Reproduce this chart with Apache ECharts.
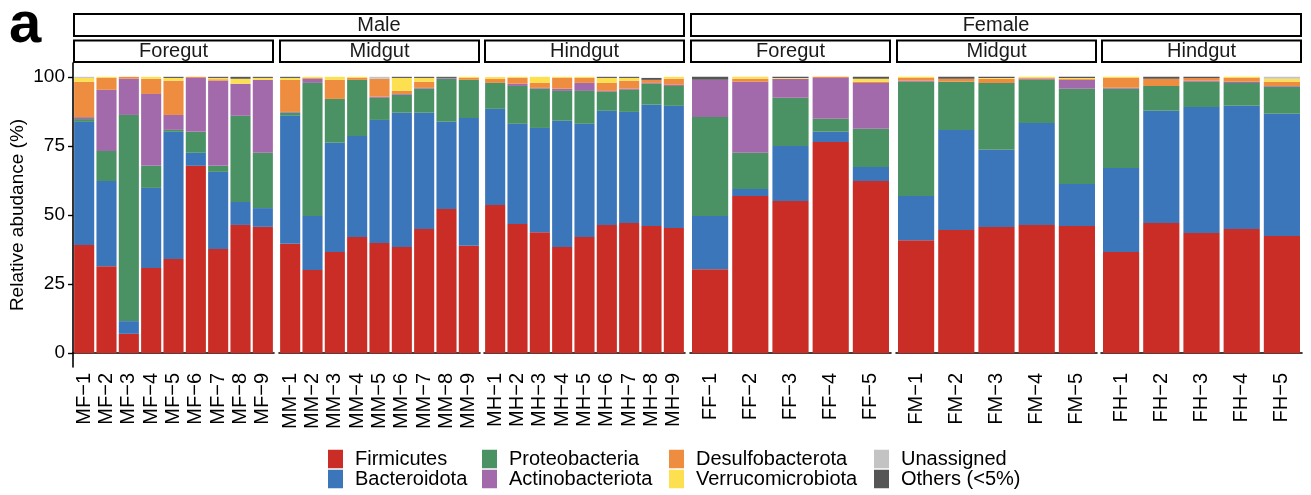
<!DOCTYPE html>
<html><head><meta charset="utf-8">
<script src="https://cdn.jsdelivr.net/npm/echarts@6/dist/echarts.min.js"></script>
<style>html,body{margin:0;padding:0;background:#fff}#c{width:1311px;height:495px}</style>
</head><body><div id="c"></div>
<script>
// ---- data ----
const samples = [
  'MF−1','MF−2','MF−3','MF−4','MF−5','MF−6','MF−7','MF−8','MF−9',
  'MM−1','MM−2','MM−3','MM−4','MM−5','MM−6','MM−7','MM−8','MM−9',
  'MH−1','MH−2','MH−3','MH−4','MH−5','MH−6','MH−7','MH−8','MH−9',
  'FF−1','FF−2','FF−3','FF−4','FF−5',
  'FM−1','FM−2','FM−3','FM−4','FM−5',
  'FH−1','FH−2','FH−3','FH−4','FH−5'
];
const sexes = ['Male', 'Female'];
const sites = ['Foregut', 'Midgut', 'Hindgut', 'Foregut', 'Midgut', 'Hindgut'];
const panelSize = [9, 9, 9, 5, 5, 5];
const phyla = ['Firmicutes','Bacteroidota','Proteobacteria','Actinobacteriota','Desulfobacterota','Verrucomicrobiota','Unassigned','Others (<5%)'];
const yTicks = [0, 25, 50, 75, 100];

const firmicutes = [39.1,31.5,7.0,30.8,34.1,67.8,37.7,46.4,45.7, 39.6,30.1,36.6,42.0,39.9,38.4,44.9,52.2,38.9, 53.6,46.7,43.8,38.4,42.0,46.4,47.1,46.0,45.3, 30.4,56.9,55.1,76.4,62.3, 40.9,44.6,45.7,46.4,46.0, 36.6,47.1,43.5,44.9,42.4];
const bacteroidota = [44.6,30.8,4.6,29.0,46.0,4.7,27.9,8.3,6.8, 46.3,19.5,39.5,36.6,44.5,48.6,42.1,31.5,46.2, 34.8,36.3,37.7,45.7,41.0,41.3,40.2,43.9,44.2, 19.2,2.5,19.9,3.7,5.1, 16.0,36.2,27.9,36.9,15.2, 30.4,40.6,45.6,44.6,44.2];
const proteobacteria = [1.0,10.9,74.6,8.0,0.7,7.6,2.2,31.2,20.0, 1.1,48.2,15.9,20.3,8.0,6.5,8.7,15.6,13.8, 9.4,13.7,14.2,10.8,11.9,6.9,8.0,7.6,7.2, 35.9,13.1,17.4,4.7,13.8, 41.3,17.4,24.2,15.6,34.5, 28.7,9.0,9.1,8.3,9.8];
const actinobacteriota = [0.7,22.1,13.1,26.0,5.4,19.5,30.8,11.6,26.4, 0.3,1.5,0,0,0.4,0.3,0.3,0.3,0, 0,0.8,0.3,0.8,2.9,0.3,0.4,0.3,0.4, 13.4,25.7,6.9,14.8,16.6, 0.4,0,0,0.4,3.2, 0.3,0,0.4,0.4,0.3];
const desulfobacterota = [12.8,4.3,0.7,5.5,12.4,0.4,0.5,0,0, 11.6,0.3,6.9,0.7,6.5,1.1,2.2,0,0.7, 1.4,2.1,1.8,3.9,1.8,2.9,2.9,1.1,2.2, 0,1.1,0,0.4,0.4, 1.0,1.1,1.5,0.3,0.3, 3.6,2.6,1.0,1.4,1.5];
const verrucomicrobiota = [1.4,0.4,0,0.7,1.0,0,0.5,1.8,0.7, 0.7,0.4,1.1,0.4,0,4.7,1.4,0,0.4, 0.7,0.4,2.2,0.4,0.4,1.8,1.0,0,0.7, 0,0.7,0.3,0,1.1, 0.4,0,0.3,0.4,0.4, 0.4,0,0,0.4,1.1];
const unassigned = [0.4,0,0,0,0,0,0,0,0, 0,0,0,0,0.7,0,0,0,0, 0,0,0,0,0,0,0,0,0, 0,0,0,0,0, 0,0,0,0,0, 0,0,0,0,0.7];
const others = [0,0,0,0,0.4,0,0.4,0.7,0.4, 0.4,0,0,0,0,0.4,0.4,0.4,0, 0,0,0,0,0,0.4,0.4,0.7,0, 1.1,0,0.4,0,0.7, 0,0.7,0.4,0,0.4, 0,0.7,0.4,0,0];

const values = [firmicutes, bacteroidota, proteobacteria, actinobacteriota, desulfobacterota, verrucomicrobiota, unassigned, others];
const colors = ['#C92D25','#3B75BA','#4A9264','#A26AAA','#EE8C3F','#FDE050','#C3C3C3','#555555'];

// ---- layout ----
const FONT = "'Liberation Sans', Arial, Helvetica, sans-serif";
const panelLeft = [73, 279, 484, 690, 896, 1101];
const panelW = 201;
const gridTop = 63, gridH = 304;

const grids = [], xAxes = [], yAxes = [], series = [];
let start = 0;
panelSize.forEach((n, p) => {
  const cats = samples.slice(start, start + n);
  grids.push({ left: panelLeft[p], width: panelW, top: gridTop, height: gridH, containLabel: false });
  xAxes.push({
    type: 'category', gridIndex: p, data: cats,
    axisLine: { lineStyle: { color: '#000', width: 1.6 } },
    axisTick: { alignWithLabel: true, interval: 0, length: 5, lineStyle: { color: '#000', width: 1.4 } },
    axisLabel: { interval: 0, rotate: 90, fontSize: 20, color: '#000', margin: 6, fontFamily: FONT, hideOverlap: false }
  });
  const first = p === 0;
  yAxes.push({
    type: 'value', gridIndex: p, min: -5, max: 105,
    splitLine: { show: false },
    axisLine: { show: first, lineStyle: { color: '#000', width: 1.6 } },
    axisTick: { show: first, customValues: yTicks, length: 5, lineStyle: { color: '#000', width: 1.4 } },
    axisLabel: { show: first, customValues: yTicks, fontSize: 19, color: '#000', margin: 8, fontFamily: FONT },
    name: first ? 'Relative abudance (%)' : '',
    nameLocation: 'middle', nameGap: 46,
    nameTextStyle: { fontSize: 19, color: '#000', fontFamily: FONT }
  });
  phyla.forEach((ph, k) => {
    series.push({
      type: 'bar', name: ph, stack: 'p' + p, xAxisIndex: p, yAxisIndex: p,
      data: values[k].slice(start, start + n),
      barCategoryGap: '10%',
      itemStyle: { color: colors[k] },
      emphasis: { disabled: true }
    });
  });
  start += n;
});

// strips
const graphics = [];
const stripStroke = { stroke: '#000', lineWidth: 2, fill: '#fff' };
[[0, 2], [3, 5]].forEach((r, i) => {
  const x0 = panelLeft[r[0]] + 1, x1 = panelLeft[r[1]] + panelW - 1;
  graphics.push({ type: 'rect', shape: { x: x0, y: 14, width: x1 - x0, height: 22 }, style: stripStroke, z: 10 });
  graphics.push({ type: 'text', x: (x0 + x1) / 2, y: 25, style: { text: sexes[i], fontSize: 20, fill: '#1a1a1a', fontFamily: FONT, align: 'center', verticalAlign: 'middle' }, z: 11 });
});
sites.forEach((s, p) => {
  const x0 = panelLeft[p] + 1, x1 = panelLeft[p] + panelW - 1;
  graphics.push({ type: 'rect', shape: { x: x0, y: 40.5, width: x1 - x0, height: 21.5 }, style: stripStroke, z: 10 });
  graphics.push({ type: 'text', x: (x0 + x1) / 2, y: 51, style: { text: s, fontSize: 20, fill: '#1a1a1a', fontFamily: FONT, align: 'center', verticalAlign: 'middle' }, z: 11 });
});
graphics.push({ type: 'text', x: 9, y: 26, style: { text: 'a', fontSize: 58, fontWeight: 'bold', fill: '#000', fontFamily: FONT, align: 'left', verticalAlign: 'middle' } });

// legends: 4 columns x 2 rows
const legendLeft = [328, 482, 669, 874];
const legends = legendLeft.map((lx, c) => ({
  orient: 'vertical', left: lx, top: 449, padding: 0,
  itemWidth: 15, itemHeight: 18.5, itemGap: 0, icon: 'rect',
  data: [phyla[c * 2], phyla[c * 2 + 1]],
  selectedMode: false,
  textStyle: { fontSize: 20, color: '#000', fontFamily: FONT, lineHeight: 18.5, padding: [0, 0, 0, 7] }
}));

const chart = echarts.init(document.getElementById('c'), null, { renderer: 'canvas' });
chart.setOption({
  animation: false,
  backgroundColor: '#fff',
  grid: grids, xAxis: xAxes, yAxis: yAxes, series: series,
  legend: legends, graphic: graphics
});
</script></body></html>
